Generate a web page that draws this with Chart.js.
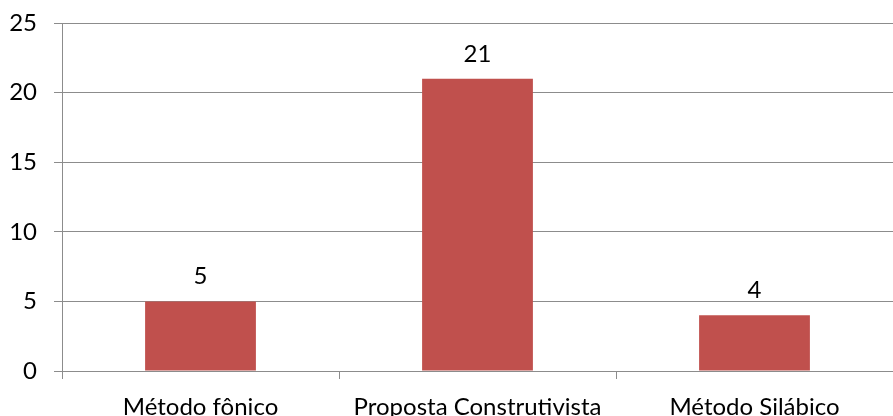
<!DOCTYPE html>
<html><head><meta charset="utf-8">
<script src="https://cdn.jsdelivr.net/npm/chart.js@4/dist/chart.umd.min.js"></script>
<style>html,body{margin:0;padding:0;background:#fff}#w{width:893px;height:416px}</style>
</head><body><div id="w"><canvas id="c"></canvas></div>
<script>
const categories = ["Método fônico", "Proposta Construtivista", "Método Silábico"];
const values = [5, 21, 4];
const yTicks = [0, 5, 10, 15, 20, 25];

const FONT = "Lato, 'Open Sans', sans-serif";
const FS = 24;
const valueLabels = {
  id: 'valueLabels',
  afterDatasetsDraw(chart) {
    const ctx = chart.ctx;
    const meta = chart.getDatasetMeta(0);
    ctx.save();
    ctx.font = FS + "px " + FONT;
    ctx.fillStyle = "#000";
    ctx.textAlign = "center";
    ctx.textBaseline = "alphabetic";
    meta.data.forEach((bar, i) => {
      ctx.fillText(String(values[i]), bar.x, bar.y - 17);
    });
    ctx.restore();
  }
};

new Chart(document.getElementById('c'), {
  type: 'bar',
  data: { labels: categories, datasets: [{ data: values, backgroundColor: '#C0504D', borderWidth: 0,
    categoryPercentage: 1, barPercentage: 0.4 }] },
  options: {
    responsive: true, maintainAspectRatio: false, animation: false,
    layout: { padding: { top: 23, right: 0, left: 0, bottom: 0 } },
    plugins: { legend: { display: false }, tooltip: { enabled: false } },
    scales: {
      x: {
        grid: { display: true, offset: true, drawOnChartArea: false, color: '#8c8c8c', tickLength: 8, lineWidth: 1 },
        border: { color: '#8c8c8c', width: 1 },
        ticks: { color: '#000', font: { family: FONT, size: FS }, padding: 14, maxRotation: 0, autoSkip: false },
        afterFit(s) { s.height = 45; s.paddingLeft = 0; s.paddingRight = 0; }
      },
      y: {
        min: 0, max: 25,
        afterBuildTicks(s) { s.ticks = yTicks.map(v => ({ value: v })); },
        grid: { color: '#8c8c8c', tickLength: 8, lineWidth: 1 },
        border: { color: '#8c8c8c', width: 1 },
        ticks: { color: '#000', font: { family: FONT, size: FS }, padding: 17 },
        afterFit(s) { s.width = 62; s.paddingTop = 0; s.paddingBottom = 0; }
      }
    }
  },
  plugins: [valueLabels]
});
</script></body></html>
